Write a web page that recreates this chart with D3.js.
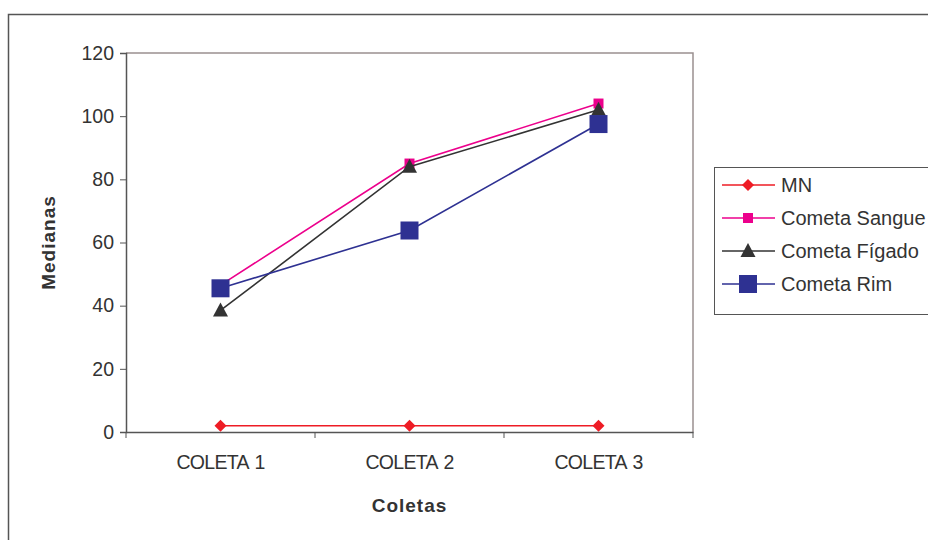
<!DOCTYPE html>
<html><head><meta charset="utf-8">
<script src="https://cdn.jsdelivr.net/npm/d3@7"></script>
<style>body{margin:0;background:#fff;} text{font-family:"Liberation Sans",Arial,sans-serif;}</style>
</head><body>
<svg id="chart" width="928" height="540"></svg>
<script>
const categories = ["COLETA 1", "COLETA 2", "COLETA 3"];
const seriesNames = ["MN", "Cometa Sangue", "Cometa Fígado", "Cometa Rim"];
const mnValues = [2, 2, 2];
const sangueValues = [46.5, 85, 104];
const figadoValues = [38.5, 84, 102];
const rimValues = [45.5, 63.8, 97.5];
const yTicks = [0, 20, 40, 60, 80, 100, 120];
const colors = ["#ee1c25", "#ec008c", "#333333", "#2e3192"];
const symbols = ["diamond", "square", "triangle", "bigsquare"];

const series = [mnValues, sangueValues, figadoValues, rimValues].map((v, i) => ({name: seriesNames[i], values: v, color: colors[i], symbol: symbols[i]}));

const svg = d3.select("#chart");
const L = 126, R = 693, T = 53, B = 432;
const FF = "Liberation Sans, Arial, sans-serif";

// outer frame
svg.append("path").attr("d", "M8.5,541 V14.5 H929").attr("fill", "none").attr("stroke", "#555").attr("stroke-width", 1.5);

const x = d3.scaleBand().domain(categories).range([L, R]);
const y = d3.scaleLinear().domain([0, 120]).range([B, T]);

// plot area border (top & right)
svg.append("path").attr("d", `M${L},${T} H${R} V${B}`).attr("fill", "none").attr("stroke", "#9a9090").attr("stroke-width", 1.5);

const yAxis = svg.append("g").attr("transform", `translate(${L},0)`)
  .call(d3.axisLeft(y).tickValues(yTicks).tickSize(6).tickPadding(6));
yAxis.attr("font-size", null).attr("font-family", null);
yAxis.select(".domain").attr("stroke", "#555").attr("stroke-width", 1.5);
yAxis.selectAll(".tick line").attr("stroke", "#555");
yAxis.selectAll("text").attr("font-size", 19.5).attr("fill", "#333").attr("font-family", FF);

const xAxis = svg.append("g").attr("transform", `translate(0,${B})`)
  .call(d3.axisBottom(x).tickSize(0).tickPadding(23));
xAxis.attr("font-size", null).attr("font-family", null);
xAxis.select(".domain").attr("stroke", "#555").attr("stroke-width", 1.5);
xAxis.selectAll("text").attr("font-size", 19.5).attr("letter-spacing", -0.7).attr("word-spacing", 2).attr("fill", "#333").attr("font-family", FF);
// x tick marks at band boundaries
const bounds = categories.map(c => x(c)).concat([x(categories[categories.length-1]) + x.bandwidth()]);
svg.append("g").selectAll("line").data(bounds).join("line")
  .attr("x1", d => d).attr("x2", d => d).attr("y1", B).attr("y2", B + 6)
  .attr("stroke", "#555");

// axis titles
svg.append("text").attr("x", (L + R) / 2).attr("y", 512).attr("text-anchor", "middle")
  .attr("font-size", 19).attr("font-weight", "bold").attr("letter-spacing", 1).attr("fill", "#333").text("Coletas");
svg.append("text").attr("transform", `translate(55,${(T + B) / 2}) rotate(-90)`).attr("text-anchor", "middle")
  .attr("font-size", 19).attr("font-weight", "bold").attr("letter-spacing", 1).attr("fill", "#333").text("Medianas");

function marker(g, sym, color, cx, cy) {
  if (sym === "diamond") {
    g.append("path").attr("d", `M${cx},${cy-6} L${cx+6},${cy} L${cx},${cy+6} L${cx-6},${cy} Z`).attr("fill", color);
  } else if (sym === "square") {
    g.append("rect").attr("x", cx - 5).attr("y", cy - 5).attr("width", 10).attr("height", 10).attr("fill", color);
  } else if (sym === "triangle") {
    g.append("path").attr("d", `M${cx},${cy-8} L${cx+7.5},${cy+6} L${cx-7.5},${cy+6} Z`).attr("fill", color);
  } else {
    g.append("rect").attr("x", cx - 9).attr("y", cy - 9).attr("width", 18).attr("height", 18).attr("fill", color);
  }
}

const cx = c => x(c) + x.bandwidth() / 2;
const line = d3.line().x((d, i) => cx(categories[i])).y(d => y(d));

series.forEach(s => {
  const g = svg.append("g");
  g.append("path").attr("d", line(s.values)).attr("fill", "none").attr("stroke", s.color).attr("stroke-width", 1.6);
  s.values.forEach((v, i) => marker(g, s.symbol, s.color, cx(categories[i]), y(v)));
});

// legend
const lg = svg.append("g");
lg.append("rect").attr("x", 714.5).attr("y", 167.5).attr("width", 230).attr("height", 147)
  .attr("fill", "#fff").attr("stroke", "#555").attr("stroke-width", 1);
series.forEach((s, i) => {
  const yy = 185 + i * 33;
  lg.append("line").attr("x1", 722).attr("x2", 775).attr("y1", yy).attr("y2", yy).attr("stroke", s.color).attr("stroke-width", 1.6);
  marker(lg, s.symbol, s.color, 748, yy);
  lg.append("text").attr("x", 781).attr("y", yy + 7).attr("font-size", 20).attr("fill", "#333").text(s.name);
});
</script>
</body></html>
